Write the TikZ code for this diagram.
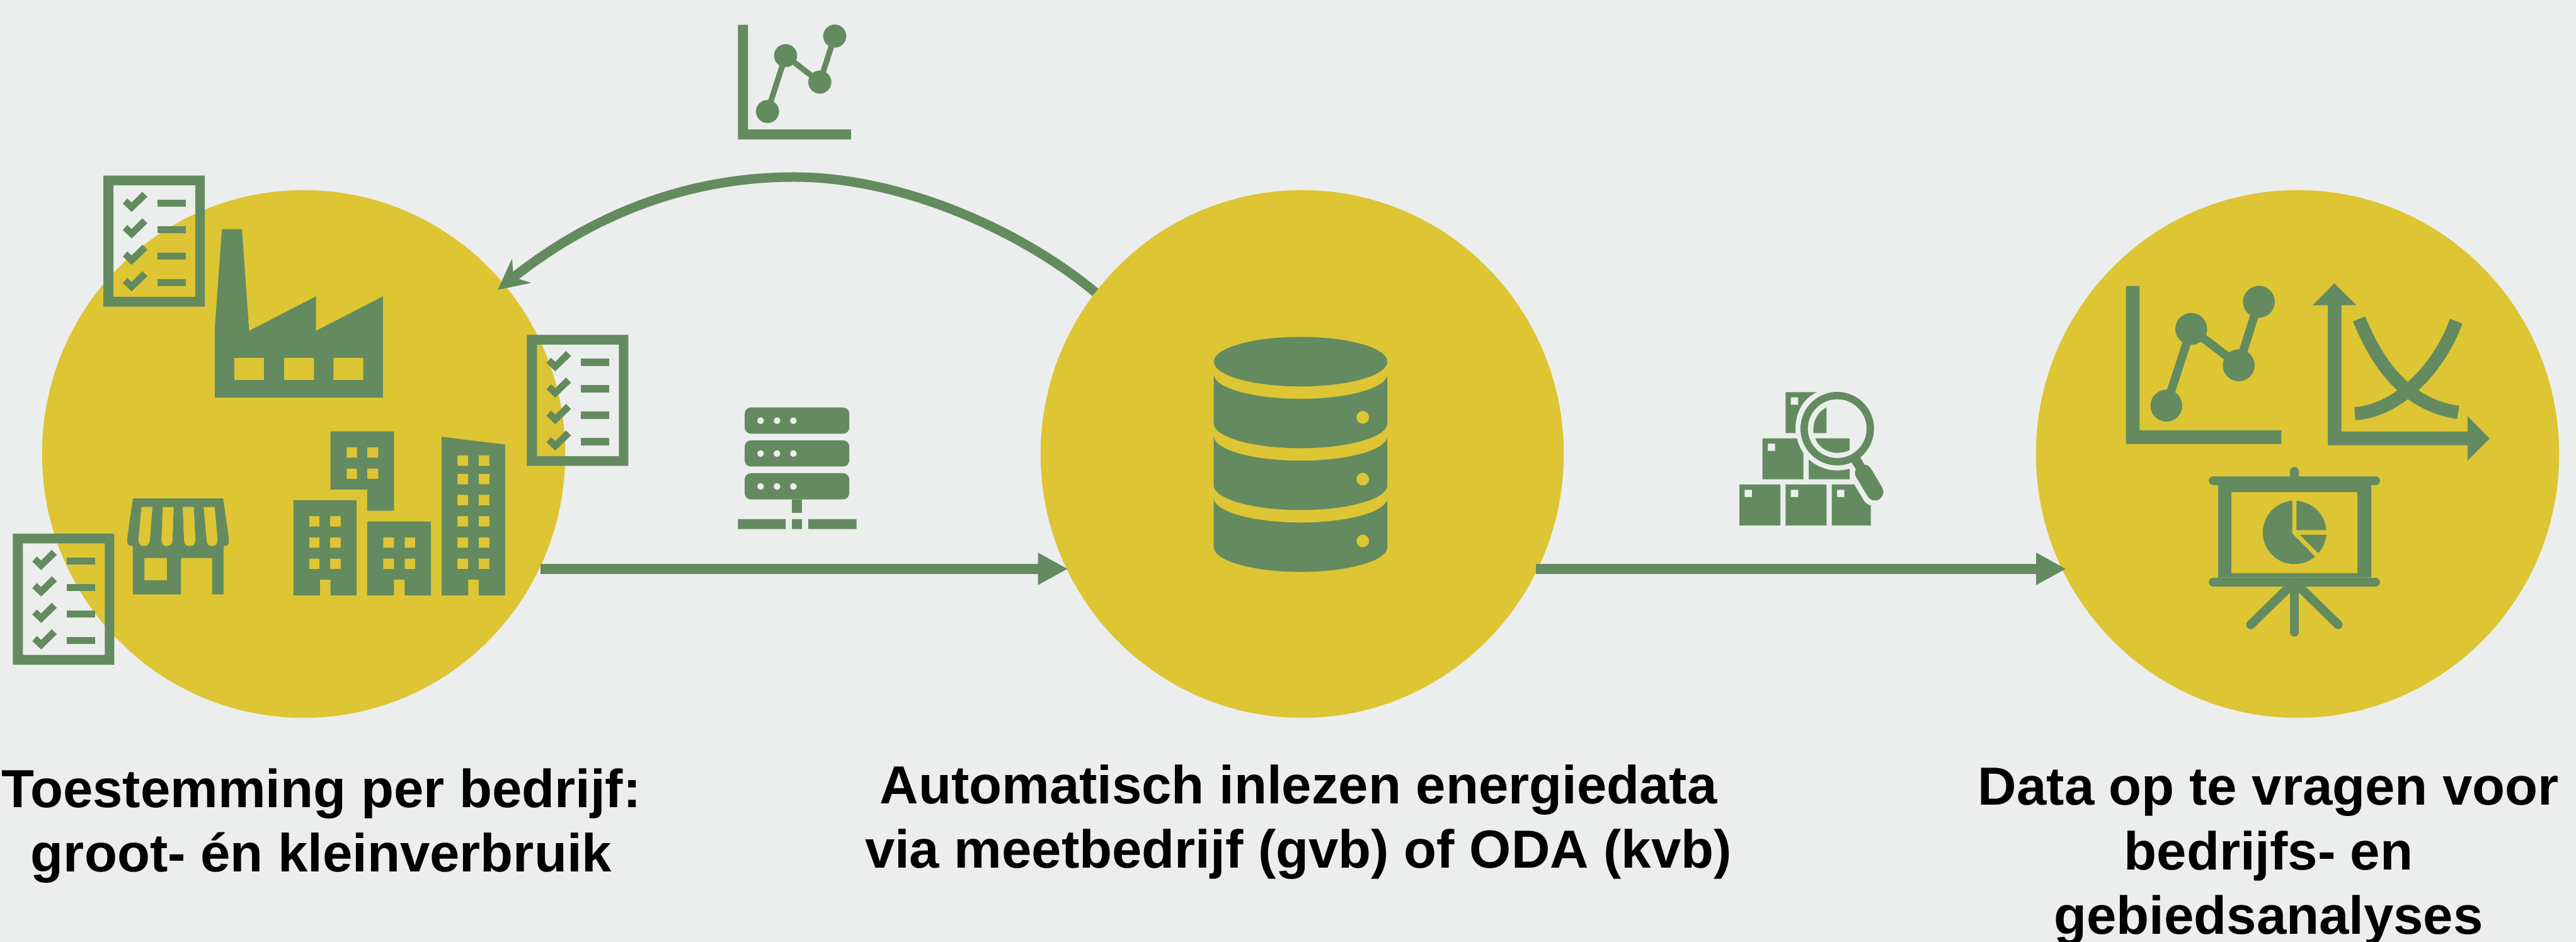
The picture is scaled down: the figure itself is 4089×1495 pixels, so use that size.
\documentclass[tikz,border=0pt]{standalone}
\usepackage{fontspec}
\setmainfont{Liberation Sans}
\usetikzlibrary{arrows.meta,shapes.geometric}
\definecolor{bgc}{HTML}{ECEEED}
\definecolor{yel}{HTML}{DDC534}
\definecolor{grn}{HTML}{638B5F}
\tikzset{
  disc/.style={ellipse,fill=yel,minimum width=8.3cm,minimum height=8.37cm,inner sep=0pt,outer sep=0pt},
  gr/.style={fill=grn,draw=none},
  eo/.style={fill=grn,draw=none,even odd rule},
  hy/.style={fill=yel,draw=none},
  hb/.style={fill=bgc,draw=none},
  flow/.style={draw=grn,line width=.16cm,-{Triangle[length=.475cm,width=.477cm]}},
  back/.style={draw=grn,line width=.15cm,-{Stealth[length=.48cm,width=.48cm,inset=.16cm]}},
  lbl/.style={font=\bfseries\fontsize{24.2pt}{29.15pt}\selectfont,align=center,text=black,inner sep=0pt,anchor=base},
  crA/.style={shift={(0,240)},xscale=.6761,yscale=.5357},
  crB/.style={shift={(1100,0)},xscale=.3333,yscale=.3333},
  crC/.style={shift={(1130,500)},xscale=.7653,yscale=.3333},
  crD/.style={shift={(2700,420)},xscale=.3333,yscale=.3333},
  crE/.style={shift={(3320,420)},xscale=.4209,yscale=.3954},
  ln/.style={draw=grn,line width=.09cm},
  bar/.style={draw=grn,line width=.142cm,line cap=round}
}
\newcommand{\ChkList}[2]{%
\begin{scope}[shift={(#1,#2)}]
  \path[eo] (0,0) rectangle (161,208) (16,15.5) rectangle (146,192.5);
  \foreach \d in {0,42,84,126}{
    \path[gr] (31,44.5+\d) -- (38,36.4+\d) -- (45,42.8+\d) -- (62,25.7+\d) -- (70,33.7+\d) -- (45,57.8+\d) -- cycle;
    \path[gr] (86,38+\d) rectangle (130.5,49.3+\d);
  }
\end{scope}}
\begin{document}
\begin{tikzpicture}[x=0.01cm,y=-0.01cm]
\useasboundingbox (0,0) rectangle (4089,1495);
\fill[bgc] (0,0) rectangle (4089,1495);
\node[disc] (c1) at (482,720.5) {};
\node[disc] (c2) at (2067,720.5) {};
\node[disc] (c3) at (3647,720.5) {};
\coordinate (backend) at (790,460);
\draw[flow,shorten <=.02cm,shorten >=-.02cm] (c1.-26.3) -- (c2.206.3);
\draw[flow,shorten <=-.03cm,shorten >=-.065cm] (c2.-26.3) -- (c3.206.3);
\draw[back] (c2.142.6) .. controls (1620,365) and (1430,281) .. (1261,281) .. controls (1085,281) and (935,345) .. (backend);

% checklists
\ChkList{164}{278.6}
\ChkList{836.4}{531.4}
\ChkList{20.3}{846.9}

% factory, shop, buildings
\begin{scope}[crA]
  \path[eo] (504,730) -- (504,530) -- (521,231) -- (568,231) -- (585,532) -- (742,430) -- (742,532) -- (899,430) -- (899,730) -- cycle
    (550,612) rectangle (620,678) (667,612) rectangle (737,678) (783,612) rectangle (853,678);
  % shop
  \path[eo] (312,1029) -- (524,1029) -- (537,1145) -- (537,1158) .. controls (537,1166) and (533,1170) .. (525,1170) -- (525,1313) -- (498,1313) -- (498,1205) -- (425,1205) -- (425,1313) -- (312,1313) -- (312,1170) .. controls (303,1170) and (299,1166) .. (299,1158) -- (299,1145) -- cycle
    (339,1205) rectangle (392,1271)
    (332,1054) -- (358,1054) -- (352,1152) .. controls (352,1164) and (346,1170) .. (338,1170) .. controls (330,1170) and (325,1164) .. (325,1152) -- cycle
    (382,1054) -- (408,1054) -- (405,1152) .. controls (405,1164) and (399,1170) .. (392,1170) .. controls (384,1170) and (379,1164) .. (379,1152) -- cycle
    (429,1054) -- (455,1054) -- (459,1152) .. controls (459,1164) and (453,1170) .. (445,1170) .. controls (437,1170) and (432,1164) .. (432,1152) -- cycle
    (478,1054) -- (504,1054) -- (511,1152) .. controls (511,1164) and (505,1170) .. (498,1170) .. controls (490,1170) and (485,1164) .. (485,1152) -- cycle;
  % buildings
  \path[eo] (776,830) -- (925,830) -- (925,1065) -- (862,1065) -- (862,1002) -- (776,1002) -- cycle
    (814,877) rectangle (838,908) (862,877) rectangle (888,908) (814,940) rectangle (838,971) (862,940) rectangle (888,971);
  \path[eo] (689,1034) -- (837,1034) -- (837,1316) -- (776,1316) -- (776,1269) -- (751,1269) -- (751,1316) -- (689,1316) -- cycle
    (726,1081) rectangle (750,1112) (775,1081) rectangle (800,1112)
    (726,1144) rectangle (750,1175) (775,1144) rectangle (800,1175)
    (726,1207) rectangle (750,1238) (775,1207) rectangle (800,1238);
  \path[eo] (862,1097) -- (1012,1097) -- (1012,1316) -- (950,1316) -- (950,1269) -- (925,1269) -- (925,1316) -- (862,1316) -- cycle
    (900,1144) rectangle (925,1175) (950,1144) rectangle (975,1175)
    (900,1207) rectangle (925,1238) (950,1207) rectangle (975,1238);
  \path[eo] (1037,846) -- (1186,869) -- (1186,1316) -- (1124,1316) -- (1124,1269) -- (1099,1269) -- (1099,1316) -- (1037,1316) -- cycle
    (1074,901) rectangle (1099,932) (1124,901) rectangle (1149,932)
    (1074,956) rectangle (1099,987) (1124,956) rectangle (1149,987)
    (1074,1018) rectangle (1099,1049) (1124,1018) rectangle (1149,1049)
    (1074,1081) rectangle (1099,1112) (1124,1081) rectangle (1149,1112)
    (1074,1144) rectangle (1099,1175) (1124,1144) rectangle (1149,1175)
    (1074,1207) rectangle (1099,1238) (1124,1207) rectangle (1149,1238);
\end{scope}

% top line chart
\begin{scope}[crB]
  \path[gr] (214,118) -- (262,118) -- (262,616) -- (753,616) -- (753,664) -- (214,664) -- cycle;
  \draw[ln] (355,531) -- (441,265) -- (604,391) -- (675,172);
  \path[gr] (355,531) ellipse [x radius=55,y radius=55];
  \path[gr] (441,265) ellipse [x radius=55,y radius=55];
  \path[gr] (604,391) ellipse [x radius=55,y radius=55];
  \path[gr] (675,172) ellipse [x radius=55,y radius=55];
\end{scope}

% server and database
\begin{scope}[crC]
  \foreach \d in {0,156.5,313}{
    \begin{scope}[shift={(0,\d)}]
      \path[gr,rounded corners=.1cm] (68,440) rectangle (285,565);
      \foreach \xx in {101,135,169}{
        \path[hb] (\xx,503) ellipse [x radius=7,y radius=16];
      }
    \end{scope}
  }
  \path[gr] (166,878) rectangle (187,941);
  \path[gr] (54,972) rectangle (153,1019) (166,972) rectangle (187,1019) (200,972) rectangle (300,1019);
  \path[gr] (1221,222) ellipse [x radius=180,y radius=118];
  \foreach \d in {0,294.5,589}{
    \begin{scope}[shift={(0,\d)}]
      \path[gr] (1041,282) -- (1041,516) .. controls (1041,581) and (1122,634) .. (1221,634) .. controls (1320,634) and (1401,581) .. (1401,516) -- (1401,282) .. controls (1401,347) and (1320,399) .. (1221,399) .. controls (1122,399) and (1041,347) .. (1041,282) -- cycle;
      \path[hy] (1350,487) ellipse [x radius=13,y radius=30];
    \end{scope}
  }
\end{scope}

% boxes and magnifier
\begin{scope}[crD]
  \path[eo] (183,1047) rectangle (378,1242) (208,1072) rectangle (243,1107);
  \path[eo] (403,1047) rectangle (598,1242) (428,1072) rectangle (463,1107);
  \path[eo] (623,1047) -- (730,1047) -- (775,1122) .. controls (783,1135) and (795,1144) .. (809,1147) -- (809,1242) -- (623,1242) -- cycle (648,1072) rectangle (683,1107);
  \path[eo] (293,827) -- (457,827) .. controls (463,852) and (473,877) .. (488,898) -- (488,1022) -- (293,1022) -- cycle (318,852) rectangle (353,887);
  \path[gr] (513,928) .. controls (552,962) and (600,980) .. (648,980) .. controls (670,980) and (690,977) .. (708,972) -- (708,1022) -- (513,1022) -- cycle;
  \path[eo] (403,607) -- (552,607) .. controls (490,635) and (450,700) .. (450,780) -- (450,802) -- (403,802) -- cycle (428,632) rectangle (463,667);
  \path[gr] (598,680) -- (598,802) -- (536,802) .. controls (530,750) and (555,700) .. (598,680) -- cycle;
  \path[gr] (544,827) -- (708,827) -- (708,883) .. controls (690,892) and (670,896) .. (648,896) .. controls (600,896) and (560,868) .. (544,827) -- cycle;
  \path[eo] (649,781) ellipse [x radius=175,y radius=175] (649,781) ellipse [x radius=140,y radius=140];
  \path[gr] (758,917) -- (778,952) .. controls (792,954) and (803,960) .. (810,972) -- (862,1060) .. controls (875,1082) and (868,1105) .. (850,1117) .. controls (830,1130) and (805,1122) .. (792,1100) -- (738,1010) .. controls (732,1000) and (732,985) .. (738,975) -- (717,942) -- cycle;
\end{scope}

% right charts and projector
\begin{scope}[crE]
  \path[gr] (130,86) -- (181,86) -- (181,665) -- (716,665) -- (716,720) -- (130,720) -- cycle;
  \draw[draw=grn,line width=.135cm] (282,566) -- (376,258) -- (555,404) -- (631,149);
  \path[gr] (282,566) ellipse [x radius=60,y radius=64];
  \path[gr] (376,258) ellipse [x radius=60,y radius=64];
  \path[gr] (555,404) ellipse [x radius=60,y radius=64];
  \path[gr] (631,149) ellipse [x radius=60,y radius=64];
  \path[gr] (891,163) -- (833,163) -- (916,75) -- (999,163) -- (942,163) -- (942,670) -- (1418,670) -- (1418,608) -- (1501,698) -- (1418,787) -- (1418,725) -- (891,725) -- cycle;
  \draw[draw=grn,line width=.21cm] (1009,218) .. controls (1060,350) and (1160,560) .. (1383,593);
  \draw[draw=grn,line width=.21cm] (1375,227) .. controls (1310,420) and (1150,590) .. (993,598);
  \draw[bar] (459,867) -- (1071,867);
  \draw[bar] (459,1274) -- (1071,1274);
  \draw[bar] (765,830) -- (765,867);
  \path[eo] (477,885) rectangle (1055,1256) (527,913) rectangle (1003,1238);
  \draw[bar] (765,1274) -- (765,1475);
  \draw[bar] (765,1274) -- (600,1445);
  \draw[bar] (765,1274) -- (930,1445);
  \path[gr] (757,948) .. controls (695,952) and (646,1008) .. (646,1076) .. controls (646,1146) and (700,1202) .. (765,1202) .. controls (797,1202) and (823,1190) .. (843,1172) -- (757,1080) -- cycle;
  \path[gr] (773,948) .. controls (833,952) and (882,1003) .. (885,1066) -- (773,1066) -- cycle;
  \path[gr] (785,1084) -- (885,1084) .. controls (883,1112) and (872,1138) .. (855,1158) -- cycle;
\end{scope}

% labels
\node[lbl] (t1) at (510,1384) {Toestemming per bedrijf:\\groot- én kleinverbruik};
\node[lbl] (t2) at (2061,1377.7) {Automatisch inlezen energiedata\\via meetbedrijf (gvb) of ODA (kvb)};
\node[lbl] (t3) at (3601,1483) {Data op te vragen voor\\bedrijfs- en\\gebiedsanalyses};
\end{tikzpicture}
\end{document}
